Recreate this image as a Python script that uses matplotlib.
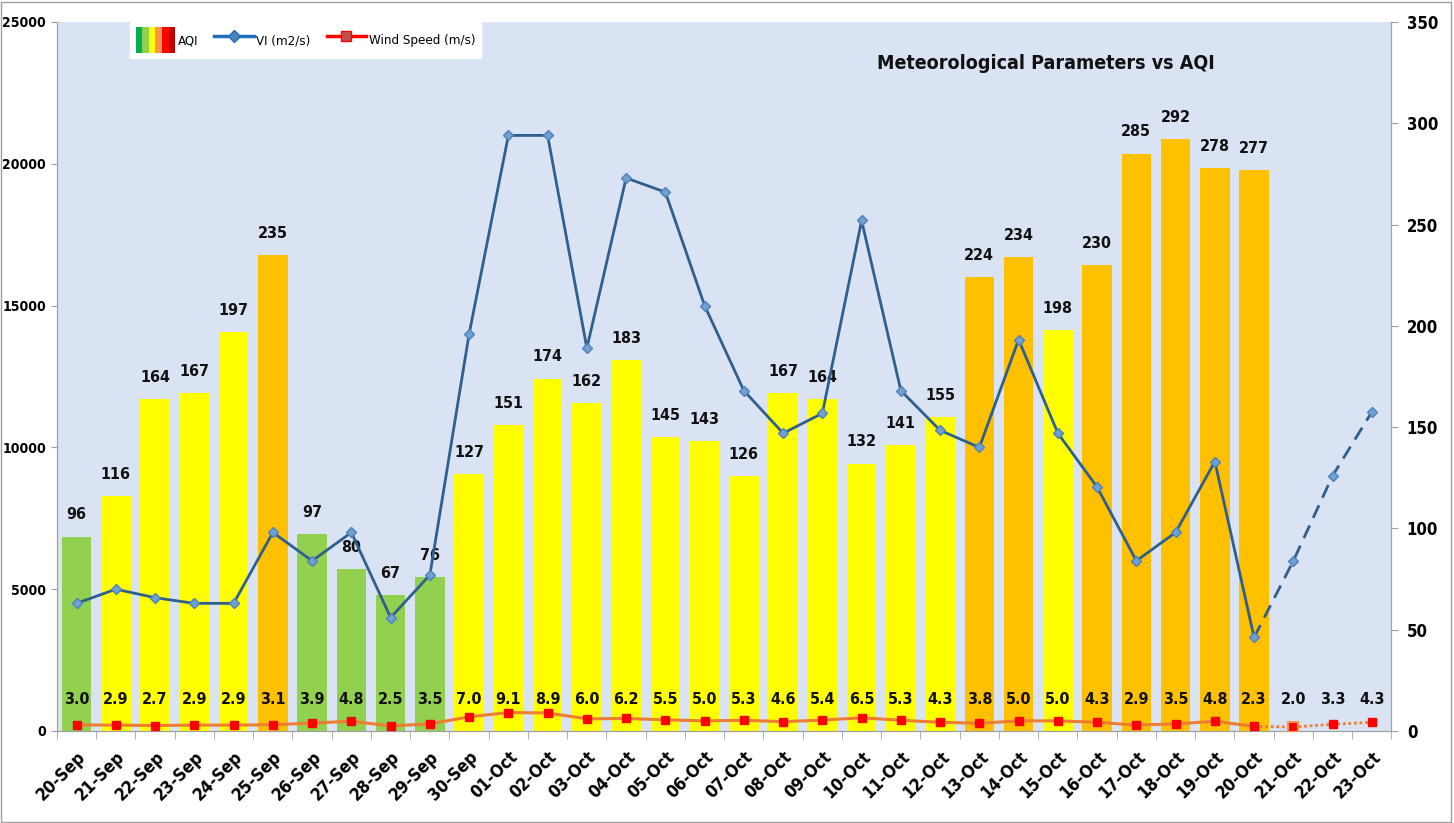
import matplotlib
matplotlib.use("Agg")
import matplotlib.pyplot as plt
from matplotlib.patches import Patch
from matplotlib.lines import Line2D
from matplotlib.legend_handler import HandlerTuple
import numpy as np

plt.rcParams['font.family'] = ['DejaVu Sans']
plt.rcParams['font.stretch'] = 'condensed'

dates = ["20-Sep", "21-Sep", "22-Sep", "23-Sep", "24-Sep", "25-Sep", "26-Sep", "27-Sep",
         "28-Sep", "29-Sep", "30-Sep", "01-Oct", "02-Oct", "03-Oct", "04-Oct", "05-Oct",
         "06-Oct", "07-Oct", "08-Oct", "09-Oct", "10-Oct", "11-Oct", "12-Oct", "13-Oct",
         "14-Oct", "15-Oct", "16-Oct", "17-Oct", "18-Oct", "19-Oct", "20-Oct", "21-Oct",
         "22-Oct", "23-Oct"]
aqi = [96, 116, 164, 167, 197, 235, 97, 80, 67, 76, 127, 151, 174, 162, 183, 145, 143,
       126, 167, 164, 132, 141, 155, 224, 234, 198, 230, 285, 292, 278, 277]
vi = [4500, 5000, 4700, 4500, 4500, 7000, 6000, 7000, 4000, 5500, 14000, 21000, 21000,
      13500, 19500, 19000, 15000, 12000, 10500, 11200, 18000, 12000, 10600, 10000, 13800,
      10500, 8600, 6000, 7000, 9500, 3300, 6000, 9000, 11250]
wind = [3.0, 2.9, 2.7, 2.9, 2.9, 3.1, 3.9, 4.8, 2.5, 3.5, 7.0, 9.1, 8.9, 6.0, 6.2, 5.5,
        5.0, 5.3, 4.6, 5.4, 6.5, 5.3, 4.3, 3.8, 5.0, 5.0, 4.3, 2.9, 3.5, 4.8, 2.3, 2.0,
        3.3, 4.3]
n_obs = 31  # observed days (through 20-Oct); later values are forecast

def aqi_color(v):
    if v <= 100:
        return "#92D050"
    if v <= 200:
        return "#FFFF00"
    return "#FFC000"

fig = plt.figure(figsize=(14.54, 8.23), dpi=100)
fig.patch.set_facecolor("white")
ax = fig.add_axes([0.0392, 0.1118, 0.9178, 0.8615])
ax2 = ax.twinx()
ax3 = ax.twinx()
ax.set_zorder(1)
ax2.set_zorder(2)
ax3.set_zorder(3)
ax.patch.set_facecolor("#DAE3F3")
ax2.patch.set_visible(False)
ax3.patch.set_visible(False)

x = np.arange(len(dates))
xa = np.arange(len(aqi))

# Bars on right axis
ax2.bar(xa, aqi, width=0.75, color=[aqi_color(v) for v in aqi], zorder=2)
for xi, v in zip(xa, aqi):
    ax2.text(xi, v + 7, str(v), ha="center", va="bottom", fontsize=11.5,
             fontweight="bold", color="#111111", zorder=5)

# Wind speed on right axis
ax2.plot(x[:n_obs], wind[:n_obs], color="#ED7D31", lw=2.2, zorder=4)
ax2.plot(x[n_obs - 1:], wind[n_obs - 1:], color="#ED7D31", lw=2, ls=(0, (1, 1)), zorder=4)
ax2.plot(x, wind, ls="none", marker="s", ms=6, mfc="#FF0000", mec="#FF0000", zorder=5)
ax2.plot(x[n_obs], wind[n_obs], ls="none", marker="s", ms=7, mfc="#FF0000",
         mec="#F79646", mew=1.5, zorder=6)
for xi, v in zip(x, wind):
    ax2.text(xi, 15.5, f"{v:.1f}", ha="center", va="center", fontsize=11.5,
             fontweight="bold", color="#111111", zorder=6)

# VI on left-axis scale
ax3.plot(x[:n_obs], vi[:n_obs], color="#2F5F8F", lw=2, zorder=4)
ax3.plot(x[n_obs - 1:], vi[n_obs - 1:], color="#2F5F8F", lw=2, ls=(0, (5, 3)), zorder=4)
ax3.plot(x, vi, ls="none", marker="D", ms=5, mfc="#6FA0D0", mec="#4F81BD", zorder=5)
ax3.set_ylim(0, 25000)
ax3.set_yticks([])
for s in ax3.spines.values():
    s.set_visible(False)

ax.set_ylim(0, 25000)
ax2.set_ylim(0, 350)
ax.set_xlim(-0.5, len(dates) - 0.5)

ax.set_yticks(np.arange(0, 25001, 5000))
ax2.set_yticks(np.arange(0, 351, 50))
ax.tick_params(axis="y", labelsize=10, length=4, color="#A0A0A0", pad=4)
ax2.tick_params(axis="y", labelsize=12, length=5, color="#A0A0A0", pad=6)
for lab in ax.get_yticklabels() + ax2.get_yticklabels():
    lab.set_fontweight("bold")

ax.set_xticks(x)
ax.set_xticklabels(dates, rotation=45, ha="right", rotation_mode="anchor",
                   fontsize=12.5, fontweight="bold")
ax.tick_params(axis="x", which="major", length=0, pad=12)
ax.set_xticks(np.arange(-0.5, len(dates), 1), minor=True)
ax.tick_params(axis="x", which="minor", length=6, color="#A0A0A0")

for a in (ax, ax2):
    a.spines["top"].set_visible(False)
    for s in ("left", "right", "bottom"):
        a.spines[s].set_color("#A0A0A0")

# Title
ax.text(0.741, 0.942, "Meteorological Parameters vs AQI", transform=ax.transAxes,
        ha="center", va="center", fontsize=14, fontweight="bold", color="#111111", zorder=10)

# Legend
aqi_handle = tuple(Patch(facecolor=c, edgecolor="none") for c in
                   ["#00B050", "#92D050", "#FFFF00", "#F79646", "#FF0000", "#C00000"])
vi_handle = Line2D([], [], color="#1F6FC0", lw=2.5, marker="D", ms=6, mfc="#4F81BD",
                   mec="#1F6FC0")
ws_handle = Line2D([], [], color="#FF0000", lw=2.5, marker="s", ms=7, mfc="#C0504D",
                   mec="#FF0000")
leg = ax3.legend([aqi_handle, vi_handle, ws_handle], ["AQI", "VI (m2/s)", "Wind Speed (m/s)"],
                 handler_map={tuple: HandlerTuple(ndivide=None, pad=0)},
                 loc="upper left", bbox_to_anchor=(0.055, 1.0), borderaxespad=0,
                 ncol=3, frameon=True,
                 fancybox=False, edgecolor="white", framealpha=1, fontsize=9.5,
                 handlelength=3.0, handleheight=2.6, columnspacing=1.2, handletextpad=0.2,
                 borderpad=0.4)

# Figure border
fig.add_artist(plt.Rectangle((0.001, 0.001), 0.997, 0.997, transform=fig.transFigure,
                             fill=False, edgecolor="#A0A0A0", lw=1))

fig.savefig("out.png", dpi=100)
